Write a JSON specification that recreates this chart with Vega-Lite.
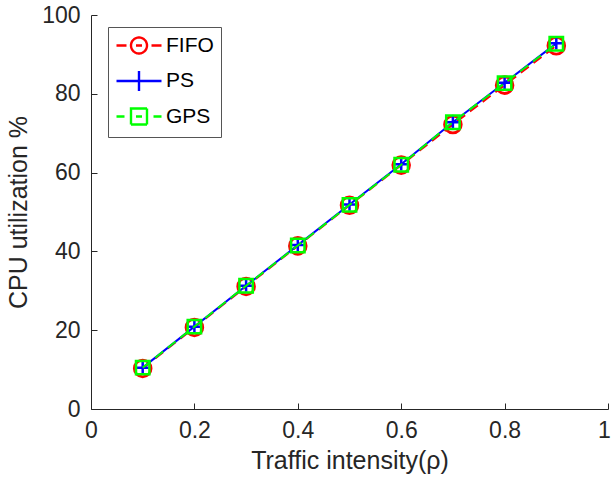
{
  "$schema": "https://vega.github.io/schema/vega-lite/v6.json",
  "width": 517,
  "height": 394,
  "autosize": {"type": "none"},
  "padding": {"left": 91, "top": 15, "right": 3, "bottom": 75},
  "background": "white",
  "config": {
    "view": {"stroke": null},
    "font": "Liberation Sans",
    "axis": {
      "grid": false,
      "domainColor": "#262626",
      "domainWidth": 1,
      "tickColor": "#262626",
      "tickWidth": 1,
      "tickSize": -6,
      "labelColor": "#262626",
      "titleColor": "#262626",
      "labelFont": "Liberation Sans",
      "titleFont": "Liberation Sans",
      "labelFontSize": 23,
      "titleFontSize": 25,
      "titleFontWeight": "normal",
      "labelFlush": false,
      "labelOverlap": false,
      "labelBound": false
    }
  },
  "data": {
    "values": [
      {"rho": 0.1, "cpu": 10.3, "policy": "FIFO"},
      {"rho": 0.2, "cpu": 20.7, "policy": "FIFO"},
      {"rho": 0.3, "cpu": 31.1, "policy": "FIFO"},
      {"rho": 0.4, "cpu": 41.4, "policy": "FIFO"},
      {"rho": 0.5, "cpu": 51.7, "policy": "FIFO"},
      {"rho": 0.6, "cpu": 61.9, "policy": "FIFO"},
      {"rho": 0.7, "cpu": 72.2, "policy": "FIFO"},
      {"rho": 0.8, "cpu": 82.2, "policy": "FIFO"},
      {"rho": 0.9, "cpu": 92.2, "policy": "FIFO"},
      {"rho": 0.1, "cpu": 10.5, "policy": "PS"},
      {"rho": 0.2, "cpu": 20.9, "policy": "PS"},
      {"rho": 0.3, "cpu": 31.3, "policy": "PS"},
      {"rho": 0.4, "cpu": 41.6, "policy": "PS"},
      {"rho": 0.5, "cpu": 51.9, "policy": "PS"},
      {"rho": 0.6, "cpu": 62.1, "policy": "PS"},
      {"rho": 0.7, "cpu": 72.8, "policy": "PS"},
      {"rho": 0.8, "cpu": 82.8, "policy": "PS"},
      {"rho": 0.9, "cpu": 92.8, "policy": "PS"},
      {"rho": 0.1, "cpu": 10.5, "policy": "GPS"},
      {"rho": 0.2, "cpu": 20.9, "policy": "GPS"},
      {"rho": 0.3, "cpu": 31.3, "policy": "GPS"},
      {"rho": 0.4, "cpu": 41.5, "policy": "GPS"},
      {"rho": 0.5, "cpu": 51.8, "policy": "GPS"},
      {"rho": 0.6, "cpu": 62.0, "policy": "GPS"},
      {"rho": 0.7, "cpu": 72.8, "policy": "GPS"},
      {"rho": 0.8, "cpu": 82.7, "policy": "GPS"},
      {"rho": 0.9, "cpu": 92.7, "policy": "GPS"}
    ]
  },
  "encoding": {
    "x": {
      "field": "rho",
      "type": "quantitative",
      "scale": {"domain": [0, 1], "nice": false, "zero": false},
      "axis": {
        "title": "Traffic intensity(ρ)",
        "values": [0, 0.2, 0.4, 0.6, 0.8, 1],
        "format": "~g",
        "labelPadding": 16,
        "titlePadding": 6,
        "labelOffset": {"condition": {"test": "datum.value === 1", "value": -4}, "value": 0}
      }
    },
    "y": {
      "field": "cpu",
      "type": "quantitative",
      "scale": {"domain": [0, 100], "nice": false},
      "axis": {
        "title": "CPU utilization %",
        "values": [0, 20, 40, 60, 80, 100],
        "labelPadding": 17,
        "titlePadding": 10
      }
    },
    "color": {
      "field": "policy",
      "type": "nominal",
      "scale": {"domain": ["FIFO", "PS", "GPS"], "range": ["#ff0000", "#0000ff", "#00ff00"]},
      "legend": {
        "title": null,
        "orient": "none",
        "legendX": 17,
        "legendY": 12,
        "direction": "vertical",
        "fillColor": "white",
        "strokeColor": "#555555",
        "padding": 7,
        "rowPadding": 6.5,
        "symbolSize": 400,
        "symbolStrokeWidth": 2.4,
        "labelFont": "Liberation Sans",
        "labelFontSize": 21,
        "labelColor": "#000000",
        "labelOffset": 28,
        "encode": {
          "symbols": {
            "update": {
              "shape": {"signal": "datum.value === 'FIFO' ? 'M-1,0H0M2.5,0H3.5M0.45,0A0.8,0.8 0 1,1 2.05,0A0.8,0.8 0 1,1 0.45,0M0.95,0H1.55' : datum.value === 'PS' ? 'M-1,0H3.5M1.25,-1V1' : 'M-1,0H-0.2M2.7,0H3.5M0.45,-0.8H2.05V0.8H0.45ZM0.95,0H1.55'"},
              "fill": {"value": "transparent"},
              "strokeDash": {"value": [1, 0]},
              "opacity": {"value": 1}
            }
          }
        }
      }
    }
  },
  "layer": [
    {
      "transform": [{"filter": "datum.policy === 'FIFO'"}],
      "mark": {"type": "line", "strokeWidth": 2, "strokeDash": [10, 6]}
    },
    {
      "transform": [{"filter": "datum.policy === 'FIFO'"}],
      "mark": {"type": "point", "shape": "circle", "size": 280, "filled": false, "strokeWidth": 2.8, "opacity": 1}
    },
    {
      "transform": [{"filter": "datum.policy === 'PS'"}],
      "mark": {"type": "line", "strokeWidth": 2}
    },
    {
      "transform": [{"filter": "datum.policy === 'PS'"}],
      "mark": {"type": "point", "shape": "M-1,0H1M0,-1V1", "size": 150, "filled": false, "strokeWidth": 2.5, "opacity": 1}
    },
    {
      "transform": [{"filter": "datum.policy === 'GPS'"}],
      "mark": {"type": "line", "strokeWidth": 2, "strokeDash": [10, 6]}
    },
    {
      "transform": [{"filter": "datum.policy === 'GPS'"}],
      "mark": {"type": "point", "shape": "square", "size": 180, "filled": false, "strokeWidth": 2.5, "opacity": 1}
    }
  ]
}
